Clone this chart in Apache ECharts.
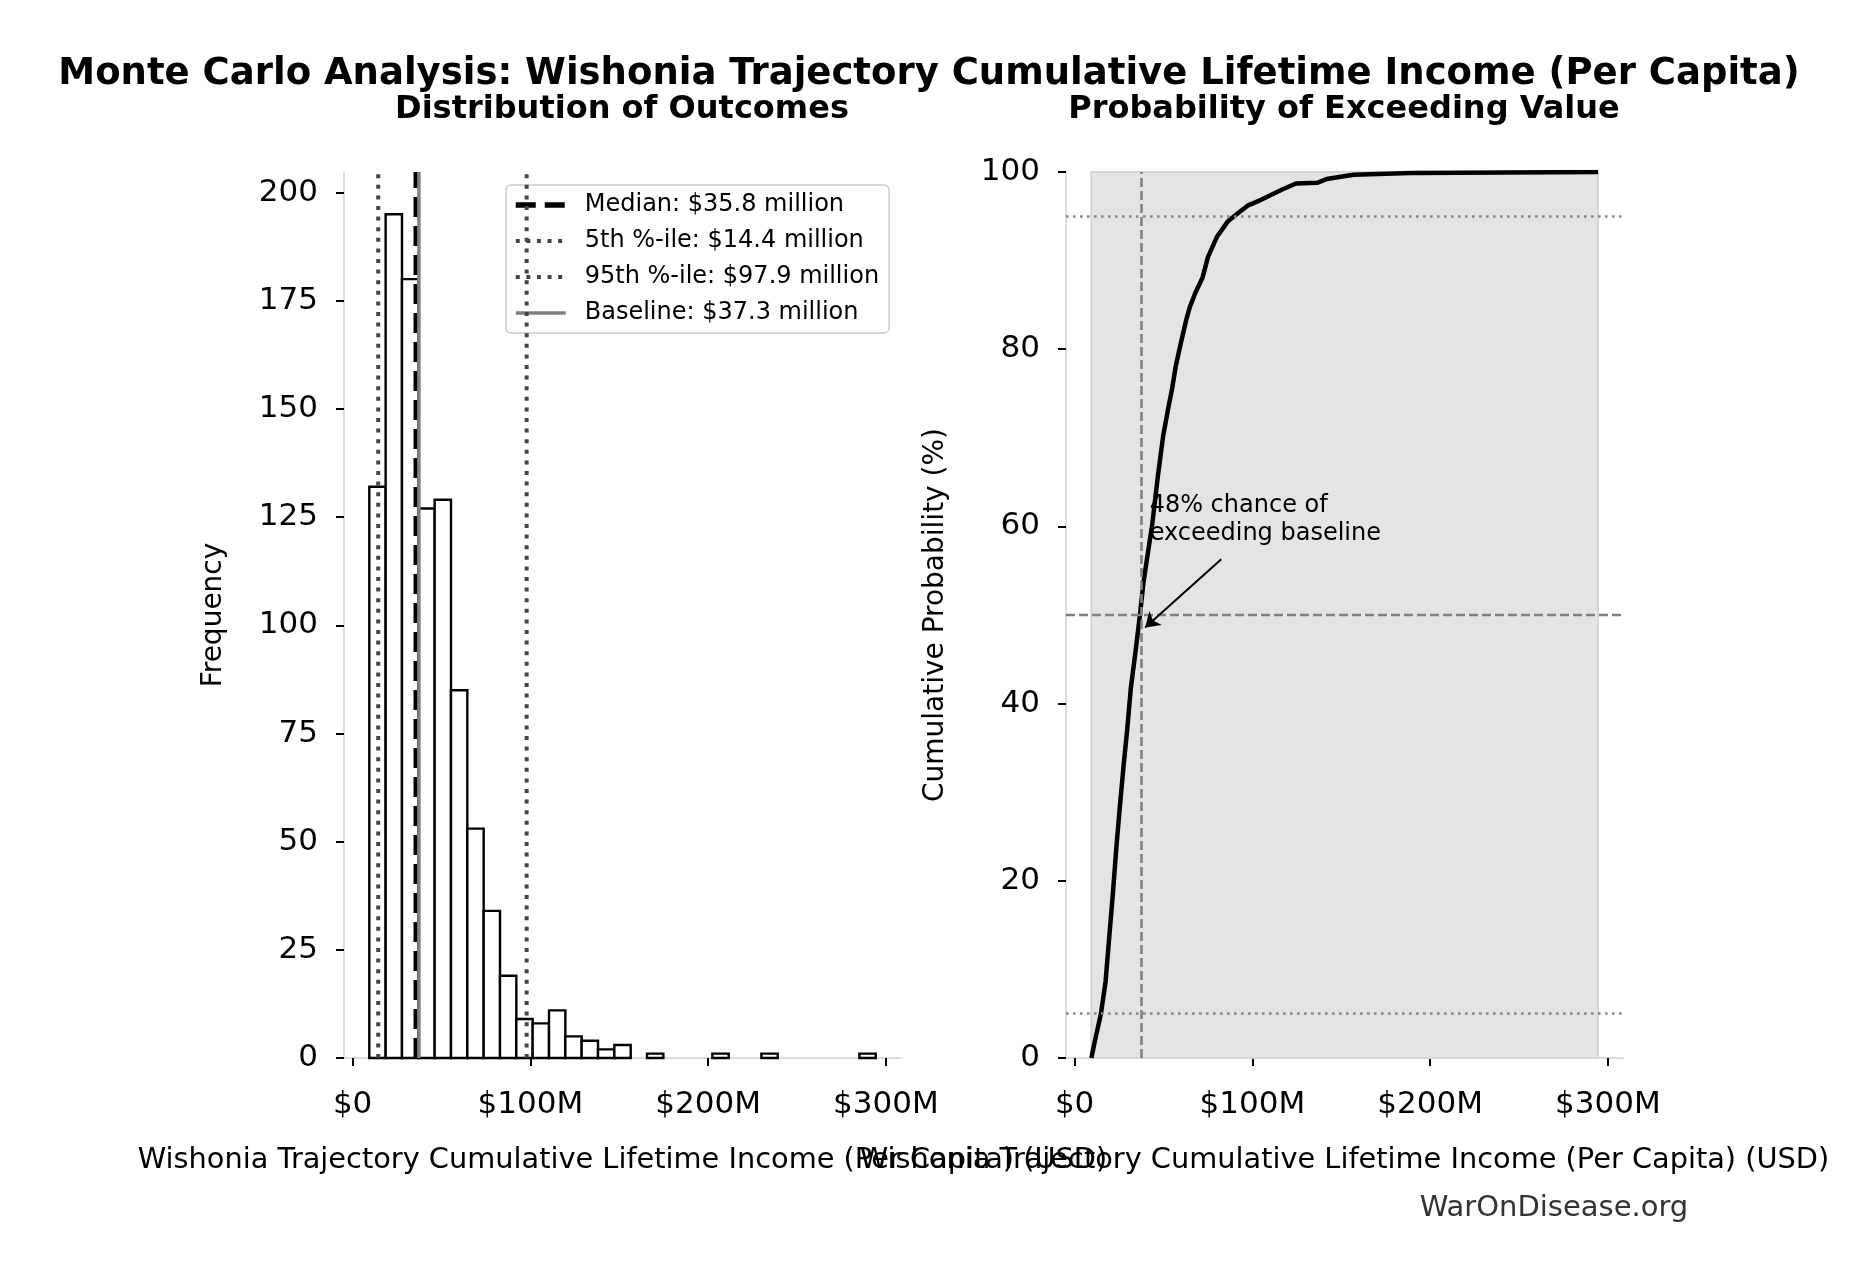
<!DOCTYPE html>
<html>
<head>
<meta charset="utf-8">
<script src="https://cdn.jsdelivr.net/npm/echarts@6/dist/echarts.min.js"></script>
<style>
  html, body { margin: 0; padding: 0; background: #fff; }
  #chart { width: 1858px; height: 1280px; }
</style>
</head>
<body>
<div id="chart"></div>
<script>
// histogram: 31 equal-width bins (values in $M)
const binStart = 9.39;
const binWidth = 9.19;
const binCounts = [132, 195, 180, 127, 129, 85, 53, 34, 19, 9, 8, 11, 5, 4, 2, 3,
                   0, 1, 0, 0, 0, 1, 0, 0, 1, 0, 0, 0, 0, 0, 1];

// summary stats ($M)
const medianVal = 35.8;
const p5Val = 14.4;
const p95Val = 97.9;
const baselineVal = 37.3;

// cumulative distribution
const cdfX = [9.4, 11.5, 14.8, 17.4, 19.3, 21.5, 23.5, 25.5, 27.6, 29.6, 31.6, 34.6,
              36.9, 38.7, 40.7, 43.7, 46.8, 49.8, 52.8, 54.8, 56.9, 59.9, 62.9, 64.9,
              68.0, 72.0, 75.0, 80.1, 86.1, 92.2, 97.3, 104.3, 110.4, 116.5, 124.5,
              136.7, 141.7, 156.9, 189.2, 294.5];
const cdfY = [0, 2.0, 5.0, 8.6, 13.2, 18.5, 23.8, 28.5, 33.1, 37.1, 41.7, 46.4,
              50.3, 53.6, 56.3, 60.3, 65.6, 70.2, 73.5, 75.5, 78.1, 80.8, 83.4, 84.8,
              86.4, 88.1, 90.4, 92.7, 94.4, 95.4, 96.2, 96.8, 97.4, 98.0, 98.7,
              98.8, 99.2, 99.7, 99.9, 100];

const xTicks = [0, 100, 200, 300];
const freqTicks = [0, 25, 50, 75, 100, 125, 150, 175, 200];

const FONT = 'DejaVu Sans';
const X_MIN = -4.85, X_MAX = 308.5;
const FREQ_MAX = 204.75;

let myChart = echarts.init(document.getElementById('chart'));

const histData = binCounts.map((c, i) => [binStart + i * binWidth, binStart + (i + 1) * binWidth, c]);
const cdfData = cdfX.map((x, i) => [x, cdfY[i]]);

function moneyLabel(v) {
  return v === 0 ? '$0' : '$' + v + 'M';
}

const axisLineStyle = { show: true, onZero: false, lineStyle: { color: '#dcdcdc', width: 2 } };
const tickStyle = { show: true, length: 8, lineStyle: { color: '#000', width: 2 } };
const labelStyle = { fontFamily: FONT, fontSize: 31, color: '#000' };

// line styles shared by the marker lines and their legend entries
const medianStyle = { color: '#000', width: 5.5, type: [20, 9] };
const dottedStyle = { color: '#444', width: 4, type: [4, 6.6], cap: 'butt' };
const baselineStyle = { color: '#808080', width: 3.5, type: 'solid' };

function xAxisFor(gridIndex) {
  return {
    type: 'value', gridIndex: gridIndex, min: X_MIN, max: X_MAX,
    name: 'Wishonia Trajectory Cumulative Lifetime Income (Per Capita) (USD)',
    nameLocation: 'middle', nameGap: 88,
    nameTextStyle: { fontFamily: FONT, fontSize: 28.8, color: '#000' },
    axisLine: axisLineStyle,
    axisTick: Object.assign({ customValues: xTicks }, tickStyle),
    axisLabel: Object.assign({ customValues: xTicks, margin: 31, formatter: moneyLabel }, labelStyle),
    splitLine: { show: false }
  };
}

function vline(name, value, style) {
  return {
    name: name, type: 'line', xAxisIndex: 0, yAxisIndex: 0,
    data: [[value, 0], [value, FREQ_MAX]],
    showSymbol: false, symbol: 'none', silent: true, z: 5,
    itemStyle: { color: style.color },
    lineStyle: style
  };
}

function legendItem(name, style) {
  return { name: name, lineStyle: { color: style.color, width: style.width, type: style.type, cap: 'butt' } };
}

myChart.setOption({
  animation: false,
  backgroundColor: '#fff',
  title: [
    { text: 'Monte Carlo Analysis: Wishonia Trajectory Cumulative Lifetime Income (Per Capita)',
      left: 929, top: 56, textAlign: 'center', padding: 0,
      textStyle: { fontFamily: FONT, fontWeight: 'bold', fontSize: 37, color: '#000' } },
    { text: 'Distribution of Outcomes', left: 622, top: 94, textAlign: 'center', padding: 0,
      textStyle: { fontFamily: FONT, fontWeight: 'bold', fontSize: 32, color: '#000' } },
    { text: 'Probability of Exceeding Value', left: 1344, top: 94, textAlign: 'center', padding: 0,
      textStyle: { fontFamily: FONT, fontWeight: 'bold', fontSize: 32, color: '#000' } },
    { text: 'WarOnDisease.org', left: 1554, top: 1194, textAlign: 'center', padding: 0,
      textStyle: { fontFamily: FONT, fontWeight: 'normal', fontSize: 29, color: '#333' } }
  ],
  legend: {
    data: [
      legendItem('Median: $35.8 million', medianStyle),
      legendItem('5th %-ile: $14.4 million', dottedStyle),
      legendItem('95th %-ile: $97.9 million', dottedStyle),
      legendItem('Baseline: $37.3 million', baselineStyle)
    ],
    orient: 'vertical', left: 506, top: 185,
    padding: [8, 10, 8, 7], itemGap: 12, itemWidth: 50, itemHeight: 16,
    itemStyle: { color: 'rgba(0,0,0,0)', borderWidth: 0, opacity: 0 },
    backgroundColor: 'rgba(255,255,255,0.8)', borderColor: '#cccccc', borderWidth: 1.5, borderRadius: 5,
    textStyle: { fontFamily: FONT, fontSize: 24, color: '#000', padding: [0, 0, 0, 14] },
    selectedMode: false
  },
  grid: [
    { left: 344, top: 172, width: 557, height: 886 },
    { left: 1066, top: 172, width: 557, height: 886 }
  ],
  xAxis: [xAxisFor(0), xAxisFor(1)],
  yAxis: [
    {
      type: 'value', gridIndex: 0, min: 0, max: FREQ_MAX,
      name: 'Frequency', nameLocation: 'middle', nameGap: 116,
      nameTextStyle: { fontFamily: FONT, fontSize: 28, color: '#000' },
      axisLine: axisLineStyle,
      axisTick: Object.assign({ customValues: freqTicks }, tickStyle),
      axisLabel: Object.assign({ customValues: freqTicks, margin: 26 }, labelStyle),
      splitLine: { show: false }
    },
    {
      type: 'value', gridIndex: 1, min: 0, max: 100, interval: 20,
      name: 'Cumulative Probability (%)', nameLocation: 'middle', nameGap: 116,
      nameTextStyle: { fontFamily: FONT, fontSize: 28, color: '#000' },
      axisLine: axisLineStyle,
      axisTick: tickStyle,
      axisLabel: Object.assign({ margin: 26 }, labelStyle),
      splitLine: { show: false }
    }
  ],
  series: [
    {
      name: 'hist', type: 'custom', xAxisIndex: 0, yAxisIndex: 0, silent: true, z: 2,
      data: histData,
      renderItem: function (params, api) {
        if (api.value(2) <= 0) return null;
        const p0 = api.coord([api.value(0), api.value(2)]);
        const p1 = api.coord([api.value(1), 0]);
        return {
          type: 'rect',
          shape: { x: p0[0], y: p0[1], width: p1[0] - p0[0], height: p1[1] - p0[1] },
          style: { fill: '#fff', stroke: '#000', lineWidth: 2.4 }
        };
      }
    },
    vline('Median: $35.8 million', medianVal, medianStyle),
    vline('5th %-ile: $14.4 million', p5Val, dottedStyle),
    vline('95th %-ile: $97.9 million', p95Val, dottedStyle),
    vline('Baseline: $37.3 million', baselineVal, baselineStyle),
    {
      name: 'cdfFill', type: 'custom', xAxisIndex: 1, yAxisIndex: 1, silent: true, z: 1,
      data: [[cdfX[0], cdfX[cdfX.length - 1]]],
      renderItem: function (params, api) {
        const p0 = api.coord([api.value(0), 100]);
        const p1 = api.coord([api.value(1), 0]);
        return {
          type: 'rect',
          shape: { x: p0[0], y: p0[1], width: p1[0] - p0[0], height: p1[1] - p0[1] },
          style: { fill: '#e4e4e4', stroke: '#d6d6d6', lineWidth: 2 }
        };
      },
      markLine: {
        silent: true, symbol: 'none', label: { show: false },
        data: [
          { yAxis: 95, lineStyle: { color: '#888', width: 2.6, type: [2.6, 4.4], cap: 'butt' } },
          { yAxis: 5, lineStyle: { color: '#888', width: 2.6, type: [2.6, 4.4], cap: 'butt' } },
          { yAxis: 50, lineStyle: { color: '#808080', width: 2.4, type: [9, 4] } },
          { xAxis: baselineVal, lineStyle: { color: '#808080', width: 2.6, type: [9, 4] } }
        ]
      }
    },
    {
      name: 'cdf', type: 'line', xAxisIndex: 1, yAxisIndex: 1, silent: true, z: 4,
      data: cdfData, showSymbol: false, symbol: 'none',
      lineStyle: { color: '#000', width: 4.5, join: 'round' }
    },
    {
      name: 'note', type: 'scatter', xAxisIndex: 1, yAxisIndex: 1, silent: true, z: 6,
      data: [[42.2, 60.8]], symbolSize: 0,
      itemStyle: { opacity: 1 },
      label: {
        show: true, position: 'right', distance: 0,
        formatter: '48% chance of\nexceeding baseline',
        fontFamily: FONT, fontSize: 24, lineHeight: 28, color: '#000', opacity: 1
      },
      markLine: {
        silent: true, symbol: ['none', 'arrow'], symbolSize: 14, label: { show: false },
        lineStyle: { color: '#000', width: 2, type: 'solid', opacity: 1 },
        data: [[{ coord: [82.5, 56.3] }, { coord: [39.7, 48.6] }]]
      }
    }
  ]
});
</script>
</body>
</html>
